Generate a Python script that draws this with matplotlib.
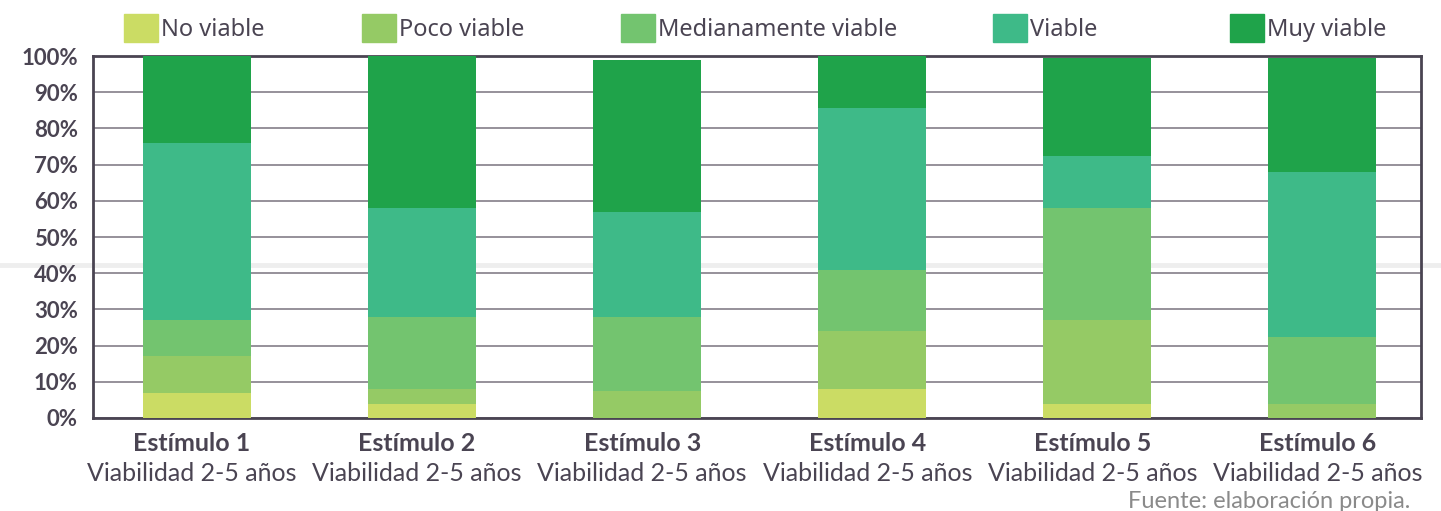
import numpy as np
import matplotlib
matplotlib.use('Agg')
from matplotlib import pyplot as plt
from matplotlib.patches import Rectangle
from matplotlib.lines import Line2D
from matplotlib.ticker import FuncFormatter

# Datos (porcentaje de respuestas por estímulo)
estimulos = ['Estímulo 1', 'Estímulo 2', 'Estímulo 3', 'Estímulo 4', 'Estímulo 5', 'Estímulo 6']
subtitulo = 'Viabilidad 2-5 años'
categorias = ['No viable', 'Poco viable', 'Medianamente viable', 'Viable', 'Muy viable']

no_viable = [7, 4, 0, 8, 4, 0]
poco_viable = [10, 4, 7.5, 16, 23, 4]
medianamente = [10, 20, 20.5, 17, 31, 18.5]
viable = [49, 30, 29, 44.5, 14.5, 45.5]
muy_viable = [24, 42, 42, 14.5, 27, 31.5]

colores = ['#cbdc64', '#95ca65', '#73c46f', '#3eba88', '#1fa34a']
txt = '#4a4452'

series = [no_viable, poco_viable, medianamente, viable, muy_viable]

fig = plt.figure(figsize=(14.41, 5.11), dpi=100)

# banda gris clara de fondo (corte de página)
fig.add_artist(Line2D([0, 1], [1 - 265/511]*2, transform=fig.transFigure,
                      color='#eeeeee', lw=3.5, zorder=0))

ax = fig.add_axes([93/1441, 1 - 418/511, (1421 - 93)/1441, (418 - 56)/511])
ax.set_facecolor('none')

x = np.arange(len(estimulos))
base = np.zeros(len(estimulos))
for vals, col in zip(series, colores):
    ax.bar(x, vals, bottom=base, width=0.48, color=col, zorder=3)
    base += np.array(vals)

ax.set_xlim(-0.46, 5.44)
ax.set_ylim(0, 100)
ax.set_yticks(np.arange(0, 101, 10))
ax.yaxis.set_major_formatter(FuncFormatter(lambda v, p: '%d%%' % v))
ax.grid(axis='y', color='#8d8892', lw=1.3, zorder=1)
ax.tick_params(axis='y', length=0, pad=11, labelsize=16, labelcolor=txt)
for lab in ax.get_yticklabels():
    lab.set_fontweight('bold')
    lab.set_fontfamily('Lato')

ax.set_xticks(x)
ax.set_xticklabels([])
ax.tick_params(axis='x', length=0)
for xi, nombre in zip(x, estimulos):
    ax.text(xi - 0.02, -0.038, nombre, ha='center', va='top', fontsize=18, fontweight='bold',
            color=txt, family='Lato', transform=ax.get_xaxis_transform())
    ax.text(xi - 0.02, -0.122, subtitulo, ha='center', va='top', fontsize=18,
            color=txt, family='Lato', transform=ax.get_xaxis_transform())

for s in ax.spines.values():
    s.set_color(txt)
    s.set_linewidth(2)

# Leyenda manual (estilo Excel)
leg_x = [124, 362, 621, 993, 1230]
for lx, lab, col in zip(leg_x, categorias, colores):
    fig.add_artist(Rectangle((lx/1441, 1 - 42/511), 34/1441, 28/511,
                             transform=fig.transFigure, color=col))
    fig.text((lx + 37)/1441, 1 - 30/511, lab, ha='left', va='center',
             fontsize=17, color=txt, family='Noto Sans')

fig.text(1410/1441, 1 - 501/511, 'Fuente: elaboración propia.', ha='right', va='center',
         fontsize=17, color='#8a8a8a', family='Lato')

plt.savefig('out.png', dpi=100)
